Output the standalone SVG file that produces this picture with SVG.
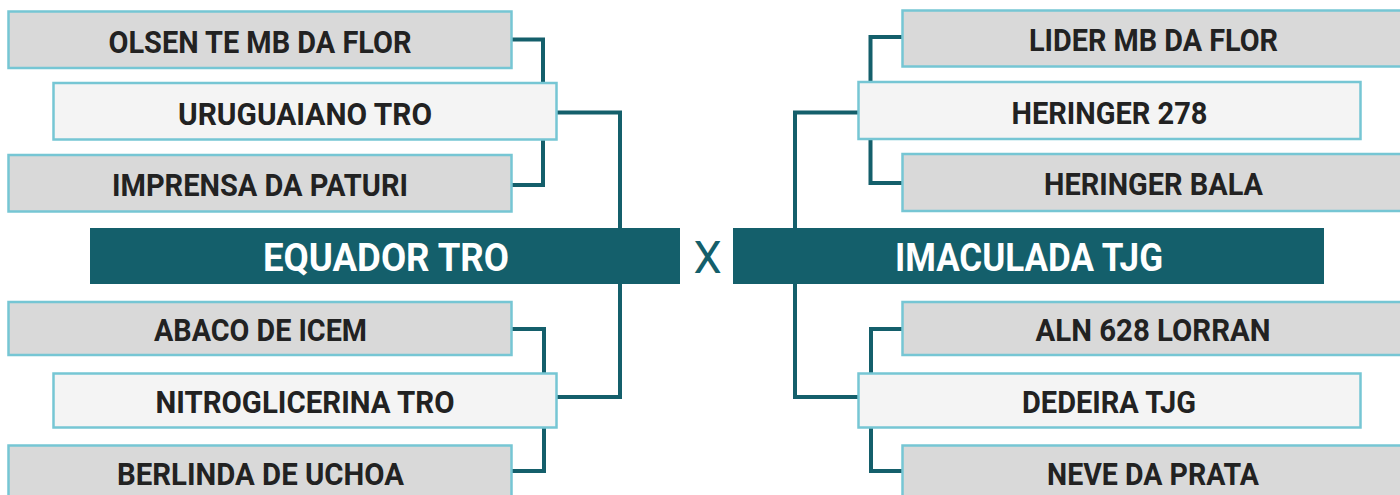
<svg xmlns="http://www.w3.org/2000/svg" width="1400" height="495" viewBox="0 0 1400 495">
<style>
.bg{fill:#ffffff}
.n1{fill:#d9d9d9;stroke:#76c6d4;stroke-width:2.5}
.n2{fill:#f4f4f4;stroke:#76c6d4;stroke-width:2.5}
.fin{fill:#145f6b}
.t{font-family:"Liberation Sans Narrow","Roboto","Liberation Sans",sans-serif;font-weight:700;font-size:32px;fill:#222222;text-anchor:middle}
.tf{font-family:"Liberation Sans Narrow","Roboto","Liberation Sans",sans-serif;font-weight:700;font-size:39px;fill:#ffffff;text-anchor:middle}
.x{font-family:"Roboto","Liberation Sans",sans-serif;font-weight:400;font-size:45px;fill:#145f6b;text-anchor:middle}
.c{fill:none;stroke:#145f6b;stroke-width:4;stroke-linejoin:miter;stroke-linecap:butt}
</style>
<rect class="bg" x="0" y="0" width="1400" height="495"/>
<g id="connectors">
<path class="c" d="M512,39.5 H543 V83"/>
<path class="c" d="M543,140 V185 H512"/>
<path class="c" d="M557,112.5 H620 V228"/>
<path class="c" d="M620,284 V397 H557"/>
<path class="c" d="M512,329 H544 V373"/>
<path class="c" d="M544,428 V471 H512"/>
<path class="c" d="M902,37 H870.5 V82"/>
<path class="c" d="M870.5,139 V183 H902"/>
<path class="c" d="M858,112.5 H795 V228"/>
<path class="c" d="M795,284 V397 H858"/>
<path class="c" d="M902,329 H871 V373"/>
<path class="c" d="M871,428 V471 H902"/>
</g>
<g id="olsen"><rect class="n1" x="8.5" y="11.5" width="503" height="56.5"/><text class="t" x="260" y="53" textLength="303" lengthAdjust="spacingAndGlyphs">OLSEN TE MB DA FLOR</text></g>
<g id="uruguaiano"><rect class="n2" x="53.5" y="83" width="503" height="56.5"/><text class="t" x="305" y="125" textLength="254" lengthAdjust="spacingAndGlyphs">URUGUAIANO TRO</text></g>
<g id="imprensa"><rect class="n1" x="8.5" y="155" width="503" height="56.5"/><text class="t" x="260" y="196" textLength="296" lengthAdjust="spacingAndGlyphs">IMPRENSA DA PATURI</text></g>
<g id="equador"><rect class="fin" x="90" y="228" width="590" height="56"/><text class="tf" x="386" y="271" textLength="246" lengthAdjust="spacingAndGlyphs">EQUADOR TRO</text></g>
<g id="abaco"><rect class="n1" x="8.5" y="302" width="503" height="53"/><text class="t" x="260.5" y="341" textLength="213" lengthAdjust="spacingAndGlyphs">ABACO DE ICEM</text></g>
<g id="nitroglicerina"><rect class="n2" x="53.5" y="373.5" width="503" height="54"/><text class="t" x="305" y="412.5" textLength="299" lengthAdjust="spacingAndGlyphs">NITROGLICERINA TRO</text></g>
<g id="berlinda"><rect class="n1" x="8.5" y="445.5" width="503" height="54"/><text class="t" x="260.5" y="485" textLength="287" lengthAdjust="spacingAndGlyphs">BERLINDA DE UCHOA</text></g>
<g id="versus"><text class="x" x="707.5" y="273">X</text></g>
<g id="lider"><rect class="n1" x="902.5" y="10.5" width="503" height="56"/><text class="t" x="1153.5" y="51" textLength="249" lengthAdjust="spacingAndGlyphs">LIDER MB DA FLOR</text></g>
<g id="heringer278"><rect class="n2" x="858.5" y="82" width="502" height="57"/><text class="t" x="1109.5" y="124" textLength="196" lengthAdjust="spacingAndGlyphs">HERINGER 278</text></g>
<g id="heringerbala"><rect class="n1" x="902.5" y="154" width="503" height="57"/><text class="t" x="1153.5" y="194.5" textLength="219" lengthAdjust="spacingAndGlyphs">HERINGER BALA</text></g>
<g id="imaculada"><rect class="fin" x="733" y="228" width="591" height="56"/><text class="tf" x="1029" y="271" textLength="268" lengthAdjust="spacingAndGlyphs">IMACULADA TJG</text></g>
<g id="aln"><rect class="n1" x="902.5" y="302" width="503" height="53"/><text class="t" x="1153" y="341" textLength="235" lengthAdjust="spacingAndGlyphs">ALN 628 LORRAN</text></g>
<g id="dedeira"><rect class="n2" x="858.5" y="373.5" width="502" height="54"/><text class="t" x="1109" y="412.5" textLength="174" lengthAdjust="spacingAndGlyphs">DEDEIRA TJG</text></g>
<g id="neve"><rect class="n1" x="902.5" y="445.5" width="503" height="54"/><text class="t" x="1153" y="485" textLength="212" lengthAdjust="spacingAndGlyphs">NEVE DA PRATA</text></g>
</svg>
